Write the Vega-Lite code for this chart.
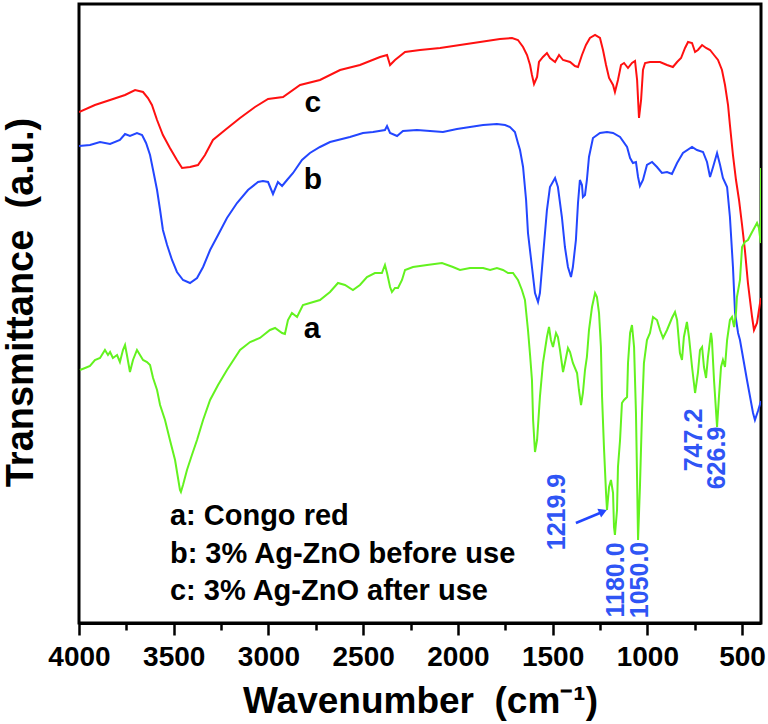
{
  "$schema": "https://vega.github.io/schema/vega-lite/v6.json",
  "autosize": {"type": "none"},
  "width": 682,
  "height": 619,
  "padding": {"left": 79, "top": 4, "right": 7, "bottom": 101},
  "background": "white",
  "config": {
    "view": {"stroke": "black", "strokeWidth": 3},
    "font": "Liberation Sans"
  },
  "datasets": {
    "spec": [
      {"s":"c","w":4000,"T":511},{"s":"c","w":3916,"T":518},{"s":"c","w":3836,"T":523},{"s":"c","w":3757,"T":528},{"s":"c","w":3704,"T":533},{"s":"c","w":3662,"T":531},{"s":"c","w":3636,"T":525},{"s":"c","w":3615,"T":518},{"s":"c","w":3588,"T":503},{"s":"c","w":3557,"T":488},{"s":"c","w":3520,"T":475},{"s":"c","w":3483,"T":463},{"s":"c","w":3456,"T":455},{"s":"c","w":3414,"T":456},{"s":"c","w":3372,"T":458},{"s":"c","w":3335,"T":468},{"s":"c","w":3293,"T":483},{"s":"c","w":3229,"T":493},{"s":"c","w":3150,"T":505},{"s":"c","w":3071,"T":516},{"s":"c","w":3002,"T":524},{"s":"c","w":2923,"T":526},{"s":"c","w":2833,"T":538},{"s":"c","w":2728,"T":543},{"s":"c","w":2622,"T":553},{"s":"c","w":2517,"T":558},{"s":"c","w":2411,"T":566},{"s":"c","w":2374,"T":568},{"s":"c","w":2358,"T":558},{"s":"c","w":2332,"T":563},{"s":"c","w":2279,"T":571},{"s":"c","w":2200,"T":573},{"s":"c","w":2094,"T":575},{"s":"c","w":1989,"T":578},{"s":"c","w":1883,"T":581},{"s":"c","w":1778,"T":584},{"s":"c","w":1714,"T":585},{"s":"c","w":1683,"T":583},{"s":"c","w":1656,"T":576},{"s":"c","w":1635,"T":568},{"s":"c","w":1619,"T":558},{"s":"c","w":1609,"T":548},{"s":"c","w":1598,"T":539},{"s":"c","w":1582,"T":546},{"s":"c","w":1572,"T":561},{"s":"c","w":1551,"T":566},{"s":"c","w":1530,"T":570},{"s":"c","w":1514,"T":565},{"s":"c","w":1487,"T":561},{"s":"c","w":1466,"T":568},{"s":"c","w":1445,"T":563},{"s":"c","w":1408,"T":561},{"s":"c","w":1382,"T":557},{"s":"c","w":1366,"T":556},{"s":"c","w":1345,"T":568},{"s":"c","w":1324,"T":578},{"s":"c","w":1303,"T":585},{"s":"c","w":1276,"T":588},{"s":"c","w":1250,"T":585},{"s":"c","w":1234,"T":573},{"s":"c","w":1218,"T":558},{"s":"c","w":1202,"T":545},{"s":"c","w":1181,"T":538},{"s":"c","w":1171,"T":531},{"s":"c","w":1155,"T":543},{"s":"c","w":1139,"T":558},{"s":"c","w":1123,"T":560},{"s":"c","w":1102,"T":555},{"s":"c","w":1081,"T":560},{"s":"c","w":1065,"T":562},{"s":"c","w":1054,"T":543},{"s":"c","w":1044,"T":505},{"s":"c","w":1033,"T":523},{"s":"c","w":1023,"T":553},{"s":"c","w":1012,"T":560},{"s":"c","w":986,"T":561},{"s":"c","w":933,"T":561},{"s":"c","w":896,"T":558},{"s":"c","w":865,"T":556},{"s":"c","w":843,"T":561},{"s":"c","w":822,"T":565},{"s":"c","w":801,"T":575},{"s":"c","w":785,"T":581},{"s":"c","w":764,"T":580},{"s":"c","w":748,"T":571},{"s":"c","w":733,"T":573},{"s":"c","w":711,"T":578},{"s":"c","w":690,"T":575},{"s":"c","w":669,"T":573},{"s":"c","w":648,"T":568},{"s":"c","w":627,"T":563},{"s":"c","w":606,"T":553},{"s":"c","w":590,"T":538},{"s":"c","w":574,"T":518},{"s":"c","w":564,"T":498},{"s":"c","w":548,"T":468},{"s":"c","w":532,"T":443},{"s":"c","w":516,"T":423},{"s":"c","w":500,"T":398},{"s":"c","w":485,"T":373},{"s":"c","w":469,"T":340},{"s":"c","w":447,"T":306},{"s":"c","w":437,"T":293},{"s":"c","w":421,"T":300},{"s":"c","w":405,"T":320},{"s":"c","w":400,"T":325},
      {"s":"b","w":4000,"T":477},{"s":"b","w":3942,"T":478},{"s":"b","w":3889,"T":481},{"s":"b","w":3836,"T":479},{"s":"b","w":3784,"T":483},{"s":"b","w":3757,"T":489},{"s":"b","w":3731,"T":487},{"s":"b","w":3694,"T":490},{"s":"b","w":3667,"T":488},{"s":"b","w":3646,"T":480},{"s":"b","w":3625,"T":468},{"s":"b","w":3609,"T":453},{"s":"b","w":3588,"T":433},{"s":"b","w":3572,"T":413},{"s":"b","w":3557,"T":393},{"s":"b","w":3535,"T":378},{"s":"b","w":3509,"T":363},{"s":"b","w":3483,"T":351},{"s":"b","w":3451,"T":343},{"s":"b","w":3414,"T":340},{"s":"b","w":3377,"T":345},{"s":"b","w":3345,"T":356},{"s":"b","w":3308,"T":373},{"s":"b","w":3266,"T":388},{"s":"b","w":3219,"T":405},{"s":"b","w":3166,"T":420},{"s":"b","w":3108,"T":433},{"s":"b","w":3055,"T":441},{"s":"b","w":3029,"T":442},{"s":"b","w":3002,"T":441},{"s":"b","w":2976,"T":429},{"s":"b","w":2950,"T":441},{"s":"b","w":2928,"T":437},{"s":"b","w":2902,"T":443},{"s":"b","w":2870,"T":450},{"s":"b","w":2823,"T":463},{"s":"b","w":2781,"T":470},{"s":"b","w":2728,"T":476},{"s":"b","w":2675,"T":481},{"s":"b","w":2570,"T":486},{"s":"b","w":2501,"T":490},{"s":"b","w":2448,"T":491},{"s":"b","w":2385,"T":493},{"s":"b","w":2374,"T":497},{"s":"b","w":2358,"T":490},{"s":"b","w":2321,"T":487},{"s":"b","w":2290,"T":492},{"s":"b","w":2216,"T":493},{"s":"b","w":2147,"T":492},{"s":"b","w":2079,"T":491},{"s":"b","w":2005,"T":494},{"s":"b","w":1936,"T":496},{"s":"b","w":1867,"T":498},{"s":"b","w":1794,"T":499},{"s":"b","w":1751,"T":498},{"s":"b","w":1725,"T":496},{"s":"b","w":1699,"T":491},{"s":"b","w":1683,"T":480},{"s":"b","w":1672,"T":473},{"s":"b","w":1656,"T":456},{"s":"b","w":1640,"T":423},{"s":"b","w":1630,"T":390},{"s":"b","w":1609,"T":356},{"s":"b","w":1593,"T":330},{"s":"b","w":1577,"T":321},{"s":"b","w":1567,"T":330},{"s":"b","w":1551,"T":366},{"s":"b","w":1530,"T":413},{"s":"b","w":1514,"T":436},{"s":"b","w":1487,"T":445},{"s":"b","w":1472,"T":436},{"s":"b","w":1451,"T":406},{"s":"b","w":1435,"T":376},{"s":"b","w":1419,"T":356},{"s":"b","w":1403,"T":346},{"s":"b","w":1393,"T":356},{"s":"b","w":1377,"T":383},{"s":"b","w":1366,"T":420},{"s":"b","w":1356,"T":443},{"s":"b","w":1345,"T":438},{"s":"b","w":1340,"T":426},{"s":"b","w":1329,"T":428},{"s":"b","w":1319,"T":443},{"s":"b","w":1308,"T":466},{"s":"b","w":1287,"T":485},{"s":"b","w":1250,"T":490},{"s":"b","w":1213,"T":491},{"s":"b","w":1181,"T":490},{"s":"b","w":1144,"T":486},{"s":"b","w":1107,"T":476},{"s":"b","w":1091,"T":465},{"s":"b","w":1076,"T":460},{"s":"b","w":1060,"T":461},{"s":"b","w":1049,"T":446},{"s":"b","w":1039,"T":437},{"s":"b","w":1023,"T":443},{"s":"b","w":1002,"T":458},{"s":"b","w":975,"T":461},{"s":"b","w":949,"T":456},{"s":"b","w":923,"T":450},{"s":"b","w":896,"T":451},{"s":"b","w":870,"T":449},{"s":"b","w":843,"T":460},{"s":"b","w":812,"T":470},{"s":"b","w":764,"T":476},{"s":"b","w":738,"T":473},{"s":"b","w":706,"T":471},{"s":"b","w":685,"T":461},{"s":"b","w":669,"T":446},{"s":"b","w":653,"T":456},{"s":"b","w":632,"T":470},{"s":"b","w":616,"T":458},{"s":"b","w":601,"T":445},{"s":"b","w":579,"T":436},{"s":"b","w":564,"T":406},{"s":"b","w":548,"T":356},{"s":"b","w":537,"T":310},{"s":"b","w":521,"T":290},{"s":"b","w":511,"T":283},{"s":"b","w":474,"T":243},{"s":"b","w":442,"T":210},{"s":"b","w":432,"T":203},{"s":"b","w":416,"T":212},{"s":"b","w":400,"T":222},
      {"s":"a","w":3995,"T":253},{"s":"a","w":3968,"T":255},{"s":"a","w":3942,"T":257},{"s":"a","w":3916,"T":263},{"s":"a","w":3889,"T":265},{"s":"a","w":3863,"T":273},{"s":"a","w":3847,"T":268},{"s":"a","w":3836,"T":271},{"s":"a","w":3821,"T":265},{"s":"a","w":3799,"T":268},{"s":"a","w":3784,"T":261},{"s":"a","w":3768,"T":273},{"s":"a","w":3757,"T":278},{"s":"a","w":3747,"T":268},{"s":"a","w":3731,"T":251},{"s":"a","w":3715,"T":263},{"s":"a","w":3694,"T":273},{"s":"a","w":3678,"T":268},{"s":"a","w":3662,"T":263},{"s":"a","w":3641,"T":261},{"s":"a","w":3625,"T":258},{"s":"a","w":3609,"T":245},{"s":"a","w":3588,"T":233},{"s":"a","w":3572,"T":218},{"s":"a","w":3546,"T":203},{"s":"a","w":3520,"T":183},{"s":"a","w":3493,"T":163},{"s":"a","w":3467,"T":133},{"s":"a","w":3462,"T":131},{"s":"a","w":3451,"T":138},{"s":"a","w":3430,"T":153},{"s":"a","w":3404,"T":168},{"s":"a","w":3377,"T":183},{"s":"a","w":3345,"T":203},{"s":"a","w":3308,"T":223},{"s":"a","w":3266,"T":238},{"s":"a","w":3219,"T":253},{"s":"a","w":3150,"T":273},{"s":"a","w":3097,"T":281},{"s":"a","w":3045,"T":285},{"s":"a","w":2992,"T":293},{"s":"a","w":2965,"T":295},{"s":"a","w":2928,"T":290},{"s":"a","w":2913,"T":289},{"s":"a","w":2897,"T":303},{"s":"a","w":2876,"T":310},{"s":"a","w":2849,"T":306},{"s":"a","w":2818,"T":318},{"s":"a","w":2781,"T":320},{"s":"a","w":2728,"T":323},{"s":"a","w":2675,"T":331},{"s":"a","w":2633,"T":340},{"s":"a","w":2596,"T":338},{"s":"a","w":2554,"T":333},{"s":"a","w":2517,"T":338},{"s":"a","w":2480,"T":346},{"s":"a","w":2438,"T":350},{"s":"a","w":2401,"T":350},{"s":"a","w":2385,"T":358},{"s":"a","w":2374,"T":350},{"s":"a","w":2358,"T":336},{"s":"a","w":2348,"T":331},{"s":"a","w":2332,"T":335},{"s":"a","w":2316,"T":335},{"s":"a","w":2295,"T":343},{"s":"a","w":2279,"T":353},{"s":"a","w":2237,"T":356},{"s":"a","w":2163,"T":358},{"s":"a","w":2084,"T":360},{"s":"a","w":2026,"T":356},{"s":"a","w":1989,"T":353},{"s":"a","w":1936,"T":355},{"s":"a","w":1867,"T":355},{"s":"a","w":1830,"T":353},{"s":"a","w":1794,"T":355},{"s":"a","w":1762,"T":353},{"s":"a","w":1735,"T":350},{"s":"a","w":1709,"T":350},{"s":"a","w":1683,"T":343},{"s":"a","w":1662,"T":333},{"s":"a","w":1646,"T":323},{"s":"a","w":1630,"T":293},{"s":"a","w":1619,"T":268},{"s":"a","w":1609,"T":243},{"s":"a","w":1603,"T":203},{"s":"a","w":1593,"T":171},{"s":"a","w":1582,"T":183},{"s":"a","w":1567,"T":226},{"s":"a","w":1551,"T":260},{"s":"a","w":1530,"T":286},{"s":"a","w":1519,"T":296},{"s":"a","w":1509,"T":283},{"s":"a","w":1498,"T":276},{"s":"a","w":1482,"T":290},{"s":"a","w":1472,"T":286},{"s":"a","w":1461,"T":273},{"s":"a","w":1445,"T":251},{"s":"a","w":1435,"T":260},{"s":"a","w":1419,"T":275},{"s":"a","w":1408,"T":271},{"s":"a","w":1393,"T":260},{"s":"a","w":1371,"T":250},{"s":"a","w":1361,"T":233},{"s":"a","w":1350,"T":218},{"s":"a","w":1340,"T":230},{"s":"a","w":1329,"T":253},{"s":"a","w":1319,"T":266},{"s":"a","w":1308,"T":293},{"s":"a","w":1292,"T":316},{"s":"a","w":1276,"T":330},{"s":"a","w":1266,"T":326},{"s":"a","w":1255,"T":310},{"s":"a","w":1245,"T":276},{"s":"a","w":1239,"T":226},{"s":"a","w":1229,"T":176},{"s":"a","w":1218,"T":130},{"s":"a","w":1213,"T":113},{"s":"a","w":1202,"T":136},{"s":"a","w":1192,"T":143},{"s":"a","w":1181,"T":130},{"s":"a","w":1176,"T":96},{"s":"a","w":1171,"T":88},{"s":"a","w":1160,"T":113},{"s":"a","w":1155,"T":156},{"s":"a","w":1144,"T":183},{"s":"a","w":1134,"T":220},{"s":"a","w":1123,"T":223},{"s":"a","w":1107,"T":226},{"s":"a","w":1102,"T":260},{"s":"a","w":1091,"T":290},{"s":"a","w":1081,"T":298},{"s":"a","w":1070,"T":276},{"s":"a","w":1060,"T":210},{"s":"a","w":1054,"T":143},{"s":"a","w":1049,"T":83},{"s":"a","w":1039,"T":136},{"s":"a","w":1028,"T":210},{"s":"a","w":1018,"T":260},{"s":"a","w":1002,"T":283},{"s":"a","w":986,"T":290},{"s":"a","w":970,"T":306},{"s":"a","w":949,"T":303},{"s":"a","w":933,"T":293},{"s":"a","w":917,"T":285},{"s":"a","w":896,"T":293},{"s":"a","w":870,"T":305},{"s":"a","w":854,"T":311},{"s":"a","w":843,"T":303},{"s":"a","w":828,"T":270},{"s":"a","w":817,"T":263},{"s":"a","w":807,"T":286},{"s":"a","w":791,"T":301},{"s":"a","w":780,"T":286},{"s":"a","w":764,"T":256},{"s":"a","w":748,"T":230},{"s":"a","w":733,"T":250},{"s":"a","w":722,"T":273},{"s":"a","w":711,"T":276},{"s":"a","w":701,"T":256},{"s":"a","w":690,"T":245},{"s":"a","w":680,"T":266},{"s":"a","w":664,"T":290},{"s":"a","w":659,"T":283},{"s":"a","w":648,"T":243},{"s":"a","w":632,"T":196},{"s":"a","w":622,"T":226},{"s":"a","w":611,"T":256},{"s":"a","w":601,"T":263},{"s":"a","w":590,"T":256},{"s":"a","w":579,"T":283},{"s":"a","w":564,"T":303},{"s":"a","w":553,"T":306},{"s":"a","w":542,"T":296},{"s":"a","w":532,"T":310},{"s":"a","w":527,"T":326},{"s":"a","w":511,"T":343},{"s":"a","w":500,"T":376},{"s":"a","w":485,"T":381},{"s":"a","w":469,"T":383},{"s":"a","w":447,"T":391},{"s":"a","w":421,"T":400},{"s":"a","w":411,"T":395},{"s":"a","w":401,"T":380},{"s":"a","w":400,"T":455}
    ],
    "curveLabels": [
      {"t": "c", "w": 2765, "T": 511},
      {"t": "b", "w": 2765, "T": 434},
      {"t": "a", "w": 2770, "T": 285}
    ],
    "legendText": [
      {"t": "a: Congo red", "w": 3520, "T": 98},
      {"t": "b: 3% Ag-ZnO before use", "w": 3520, "T": 60},
      {"t": "c: 3% Ag-ZnO after use", "w": 3520, "T": 23}
    ],
    "peaks": [
      {"t": "1219.9", "w": 1477, "T": 111},
      {"t": "1180.0", "w": 1165, "T": 43},
      {"t": "1050.0", "w": 1039, "T": 43},
      {"t": "747.2", "w": 754, "T": 183},
      {"t": "626.9", "w": 632, "T": 165}
    ],
    "arrow": [
      {"w": 1377, "T": 100, "w2": 1250, "T2": 110}
    ],
    "arrowHead": [
      {"w": 1234, "T": 111.5}
    ]
  },
  "layer": [
    {
      "data": {"name": "spec"},
      "mark": {"type": "line", "strokeWidth": 2, "clip": true},
      "encoding": {
        "x": {
          "field": "w", "type": "quantitative",
          "scale": {"domain": [400, 4000], "reverse": true, "nice": false, "zero": false},
          "axis": {
            "title": "Wavenumber\u00a0\u00a0(cm⁻¹)",
            "values": [4000, 3750, 3500, 3250, 3000, 2750, 2500, 2250, 2000, 1750, 1500, 1250, 1000, 750, 500],
            "labelExpr": "datum.value % 500 === 0 ? datum.label : ''",
            "format": "d",
            "grid": false,
            "domain": true, "domainColor": "black", "domainWidth": 3,
            "ticks": true, "tickColor": "black", "tickWidth": 2.5,
            "tickSize": {"condition": {"test": "datum.value % 500 === 0", "value": 12}, "value": 7},
            "labelFont": "Liberation Sans", "labelFontSize": 28, "labelFontWeight": "bold", "labelColor": "black",
            "labelPadding": 8, "labelFlush": false, "labelOverlap": false,
            "titleFont": "Liberation Sans", "titleFontSize": 37, "titleFontWeight": "bold", "titleColor": "black",
            "titleBaseline": "alphabetic", "titleY": 89
          }
        },
        "y": {
          "field": "T", "type": "quantitative",
          "scale": {"domain": [0, 619], "nice": false, "zero": false},
          "axis": {
            "title": "Transmittance\u00a0\u00a0(a.u.)",
            "grid": false, "domain": false, "ticks": false, "labels": false,
            "titleFont": "Liberation Sans", "titleFontSize": 38, "titleFontWeight": "bold", "titleColor": "black",
            "titleAngle": 270, "titleAlign": "center", "titleBaseline": "alphabetic",
            "titleX": -47, "titleY": 298
          }
        },
        "color": {
          "field": "s", "type": "nominal",
          "scale": {"domain": ["a", "b", "c"], "range": ["#63f21f", "#2346ff", "#ff1010"]},
          "legend": null
        }
      }
    },
    {
      "data": {"name": "curveLabels"},
      "mark": {"type": "text", "font": "Liberation Sans", "fontSize": 30, "fontWeight": "bold", "color": "black", "align": "center", "baseline": "alphabetic"},
      "encoding": {
        "x": {"field": "w", "type": "quantitative"},
        "y": {"field": "T", "type": "quantitative"},
        "text": {"field": "t"}
      }
    },
    {
      "data": {"name": "legendText"},
      "mark": {"type": "text", "font": "Liberation Sans", "fontSize": 29, "fontWeight": "bold", "color": "black", "align": "left", "baseline": "alphabetic"},
      "encoding": {
        "x": {"field": "w", "type": "quantitative"},
        "y": {"field": "T", "type": "quantitative"},
        "text": {"field": "t"}
      }
    },
    {
      "data": {"name": "peaks"},
      "mark": {"type": "text", "font": "Liberation Sans", "fontSize": 25, "fontWeight": "bold", "color": "#2f55f5", "align": "center", "baseline": "middle", "angle": 270},
      "encoding": {
        "x": {"field": "w", "type": "quantitative"},
        "y": {"field": "T", "type": "quantitative"},
        "text": {"field": "t"}
      }
    },
    {
      "data": {"name": "arrow"},
      "mark": {"type": "rule", "color": "#2346ff", "strokeWidth": 2.5},
      "encoding": {
        "x": {"field": "w", "type": "quantitative"},
        "y": {"field": "T", "type": "quantitative"},
        "x2": {"field": "w2"},
        "y2": {"field": "T2"}
      }
    },
    {
      "data": {"name": "arrowHead"},
      "mark": {"type": "point", "shape": "triangle-right", "filled": true, "color": "#2346ff", "size": 90, "angle": -23, "opacity": 1},
      "encoding": {
        "x": {"field": "w", "type": "quantitative"},
        "y": {"field": "T", "type": "quantitative"}
      }
    }
  ]
}
